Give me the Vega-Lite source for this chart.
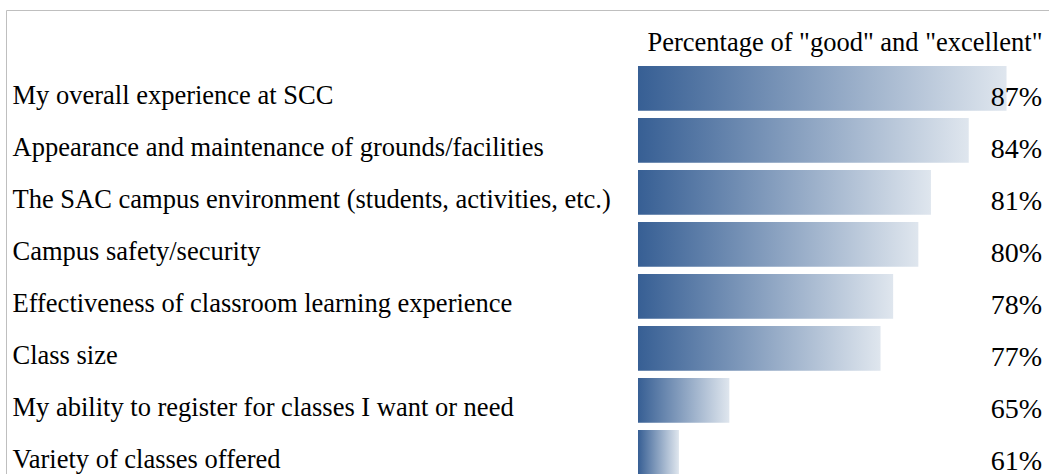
{
  "$schema": "https://vega.github.io/schema/vega-lite/v6.json",
  "autosize": {"type": "none"},
  "padding": {"left": 6, "top": 10, "right": 0, "bottom": 0},
  "width": 1043,
  "height": 475,
  "background": "white",
  "config": {
    "view": {"stroke": "#bfbfbf", "strokeWidth": 1},
    "font": "Liberation Serif"
  },
  "data": {
    "values": [
      {"item": "My overall experience at SCC", "pct": 87, "label": "87%"},
      {"item": "Appearance and maintenance of grounds/facilities", "pct": 84, "label": "84%"},
      {"item": "The SAC campus environment (students, activities, etc.)", "pct": 81, "label": "81%"},
      {"item": "Campus safety/security", "pct": 80, "label": "80%"},
      {"item": "Effectiveness of classroom learning experience", "pct": 78, "label": "78%"},
      {"item": "Class size", "pct": 77, "label": "77%"},
      {"item": "My ability to register for classes I want or need", "pct": 65, "label": "65%"},
      {"item": "Variety of classes offered", "pct": 61, "label": "61%"}
    ]
  },
  "encoding": {
    "y": {
      "field": "item",
      "type": "nominal",
      "sort": null,
      "scale": {"paddingInner": 0.14, "paddingOuter": 0.6374, "align": 0.845},
      "axis": {
        "title": null,
        "orient": "left",
        "domain": false,
        "ticks": false,
        "grid": false,
        "labelAlign": "left",
        "labelPadding": -6,
        "labelOffset": 15.5,
        "labelBaseline": "alphabetic",
        "labelFont": "Liberation Serif",
        "labelFontSize": 26.5,
        "labelColor": "#000000",
        "labelLimit": 800
      }
    }
  },
  "layer": [
    {
      "mark": {
        "type": "bar",
        "color": {
          "gradient": "linear",
          "x1": 0, "y1": 0, "x2": 1, "y2": 0,
          "stops": [
            {"offset": 0, "color": "#375f94"},
            {"offset": 1, "color": "#dfe6ee"}
          ]
        }
      },
      "encoding": {
        "x": {
          "field": "pct",
          "type": "quantitative",
          "scale": {"domain": [7.59, 90.37], "zero": false, "nice": false},
          "axis": {
            "orient": "top",
            "title": "Percentage of \"good\" and \"excellent\"",
            "labels": false,
            "ticks": false,
            "domain": false,
            "grid": false,
            "titleX": 1036,
            "titleY": 40,
            "titleAlign": "right",
            "titleAnchor": null,
            "titleBaseline": "alphabetic",
            "titleFont": "Liberation Serif",
            "titleFontSize": 26.5,
            "titleFontWeight": "normal",
            "titleColor": "#000000"
          }
        },
        "x2": {"datum": 57.75}
      }
    },
    {
      "mark": {
        "type": "text",
        "align": "right",
        "baseline": "alphabetic",
        "dx": -7,
        "dy": 18,
        "font": "Liberation Serif",
        "fontSize": 28,
        "color": "#000000"
      },
      "encoding": {
        "x": {"datum": 90.37, "type": "quantitative"},
        "text": {"field": "label", "type": "nominal"}
      }
    }
  ]
}
